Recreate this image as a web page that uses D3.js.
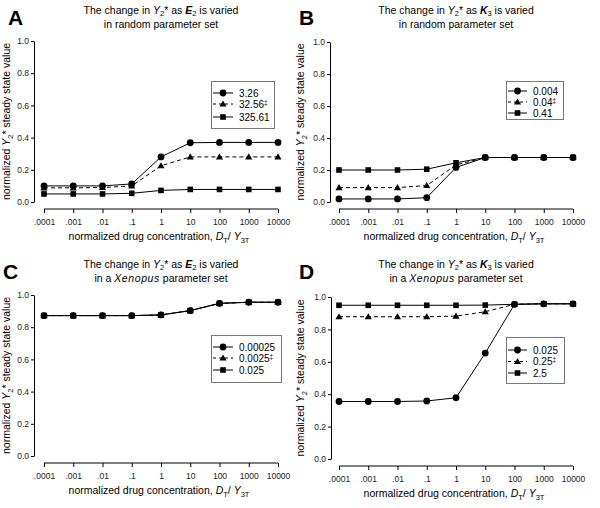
<!DOCTYPE html>
<html>
<head>
<meta charset="utf-8">
<script src="https://cdn.jsdelivr.net/npm/d3@7"></script>
<style>
  body { margin: 0; background: #fff; }
  svg { font-family: "Liberation Sans", Arial, sans-serif; }
</style>
</head>
<body>
<svg id="chart" width="600" height="508"></svg>
<script>
// ---------- Data ----------
const xCategories = [".0001", ".001", ".01", ".1", "1", "10", "100", "1000", "10000"];
const yTicks = [0.0, 0.2, 0.4, 0.6, 0.8, 1.0];

// Panel A: E2 varied, random parameter set
const aLabels = ["3.26", "32.56", "325.61"];
const aCircle = [0.10, 0.10, 0.10, 0.112, 0.28, 0.368, 0.37, 0.37, 0.37];
const aTriangle = [0.088, 0.088, 0.09, 0.10, 0.225, 0.28, 0.28, 0.28, 0.28];
const aSquare = [0.05, 0.05, 0.05, 0.054, 0.072, 0.078, 0.078, 0.078, 0.078];

// Panel B: K3 varied, random parameter set
const bLabels = ["0.004", "0.04", "0.41"];
const bCircle = [0.019, 0.019, 0.019, 0.027, 0.216, 0.278, 0.278, 0.278, 0.278];
const bTriangle = [0.09, 0.09, 0.09, 0.103, 0.232, 0.278, 0.278, 0.278, 0.278];
const bSquare = [0.20, 0.20, 0.20, 0.205, 0.245, 0.278, 0.278, 0.278, 0.278];

// Panel C: E2 varied, Xenopus parameter set
const cLabels = ["0.00025", "0.0025", "0.025"];
const cCircle = [0.872, 0.872, 0.872, 0.872, 0.876, 0.903, 0.948, 0.955, 0.955];
const cTriangle = [0.872, 0.872, 0.872, 0.872, 0.876, 0.903, 0.948, 0.955, 0.955];
const cSquare = [0.872, 0.872, 0.872, 0.872, 0.876, 0.903, 0.948, 0.955, 0.955];

// Panel D: K3 varied, Xenopus parameter set
const dLabels = ["0.025", "0.25", "2.5"];
const dCircle = [0.355, 0.355, 0.355, 0.358, 0.378, 0.654, 0.955, 0.958, 0.958];
const dTriangle = [0.878, 0.878, 0.878, 0.878, 0.882, 0.909, 0.955, 0.958, 0.958];
const dSquare = [0.949, 0.949, 0.949, 0.949, 0.949, 0.950, 0.955, 0.958, 0.958];

// ---------- Layout ----------
const panels = [
  { letter: "A", param: "E", sub: "2", set: "random", labels: aLabels, series: [aCircle, aTriangle, aSquare],
    ox: 0, oy: 0, axisX: 34, x0: 44, x1: 278, yTop: 41, yBot: 202, xAxisY: 209, yLabelX: 10,
    legend: { x: 211, y: 81, w: 63, h: 47, rows: [12, 23, 36], lx0: 2, lx1: 22, tx: 28 }, titleX: 161, letterX: 8 },
  { letter: "B", param: "K", sub: "3", set: "random", labels: bLabels, series: [bCircle, bTriangle, bSquare],
    ox: 300, oy: 0, axisX: 30, x0: 39, x1: 273, yTop: 42, yBot: 202, xAxisY: 209, yLabelX: 4,
    legend: { x: 206, y: 81, w: 57, h: 38, rows: [10, 21, 32], lx0: 2, lx1: 21, tx: 27 }, titleX: 156, letterX: -1 },
  { letter: "C", param: "E", sub: "2", set: "xenopus", labels: cLabels, series: [cCircle, cTriangle, cSquare],
    ox: 0, oy: 254, axisX: 34, x0: 44, x1: 278, yTop: 41, yBot: 202, xAxisY: 209, yLabelX: 10,
    legend: { x: 211, y: 81, w: 70, h: 47, rows: [12, 23, 35], lx0: 2, lx1: 22, tx: 28 }, titleX: 161, letterX: 3 },
  { letter: "D", param: "K", sub: "3", set: "xenopus", labels: dLabels, series: [dCircle, dTriangle, dSquare],
    ox: 300, oy: 254, axisX: 31, x0: 39, x1: 273, yTop: 43, yBot: 205, xAxisY: 212, yLabelX: 4,
    legend: { x: 206, y: 83, w: 58, h: 46, rows: [13, 24.5, 36], lx0: 2, lx1: 21, tx: 27 }, titleX: 156, letterX: -1 }
];

const svg = d3.select("#chart");
const markers = ["circle", "triangle", "square"];
const dashes = [null, "4,3", null];

function drawMarker(g, type, x, y) {
  if (type === "circle") {
    g.append("circle").attr("cx", x).attr("cy", y).attr("r", 3.4).attr("fill", "#000");
  } else if (type === "square") {
    g.append("rect").attr("x", x - 2.8).attr("y", y - 2.8).attr("width", 5.6).attr("height", 5.6).attr("fill", "#000");
  } else {
    const s = d3.symbol().type(d3.symbolTriangle).size(22);
    g.append("path").attr("d", s()).attr("transform", `translate(${x},${y + 0.5})`).attr("fill", "#000");
  }
}

const SUBFS = 7.5;

panels.forEach(p => {
  const g = svg.append("g").attr("transform", `translate(${p.ox},${p.oy})`);
  const x = d3.scalePoint().domain(xCategories).range([p.x0, p.x1]);
  const y = d3.scaleLinear().domain([0, 1]).range([p.yBot, p.yTop]);

  // Panel letter
  g.append("text").attr("x", p.letterX).attr("y", 25)
    .attr("font-size", 21).attr("font-weight", "bold").text(p.letter);

  // Title
  const t1 = g.append("text").attr("x", p.titleX).attr("y", 13.5).attr("text-anchor", "middle").attr("font-size", 10.5);
  t1.append("tspan").text("The change in ");
  t1.append("tspan").attr("font-style", "italic").text("Y");
  t1.append("tspan").attr("font-size", SUBFS).attr("dy", 2.5).text("2");
  t1.append("tspan").attr("dy", -2.5).text("* as ");
  t1.append("tspan").attr("font-style", "italic").attr("font-weight", "bold").text(p.param);
  t1.append("tspan").attr("font-size", SUBFS).attr("dy", 2.5).text(p.sub);
  t1.append("tspan").attr("dy", -2.5).text(" is varied");
  const t2 = g.append("text").attr("x", p.titleX).attr("y", 27.5).attr("text-anchor", "middle").attr("font-size", 10.5);
  if (p.set === "random") {
    t2.text("in random parameter set");
  } else {
    t2.append("tspan").text("in a ");
    t2.append("tspan").attr("font-style", "italic").attr("letter-spacing", 0.6).text("Xenopus");
    t2.append("tspan").text("  parameter set");
  }

  // Y axis
  const yAxis = d3.axisLeft(y).tickValues(yTicks).tickFormat(d3.format(".1f")).tickSize(3).tickPadding(2).tickSizeOuter(0);
  const ya = g.append("g").attr("transform", `translate(${p.axisX},0)`).call(yAxis);
  ya.select(".domain").attr("stroke", "#000");
  ya.selectAll("text").attr("font-size", 8.5).attr("fill", "#222").attr("font-family", "Liberation Sans, Arial, sans-serif");

  // X axis
  const xAxis = d3.axisBottom(x).tickSize(4).tickSizeOuter(0);
  const xa = g.append("g").attr("transform", `translate(0,${p.xAxisY})`).call(xAxis);
  xa.select(".domain").attr("d", `M${p.x0},0H${p.x1}`);
  xa.selectAll("text").attr("font-size", 8.5).attr("fill", "#222").attr("y", 16).attr("dy", 0)
    .attr("font-family", "Liberation Sans, Arial, sans-serif");

  // Y axis label
  const yl = g.append("text").attr("transform", `translate(${p.yLabelX},${(p.yTop + p.yBot) / 2}) rotate(-90)`)
    .attr("text-anchor", "middle").attr("font-size", 10.5);
  yl.append("tspan").text("normalized ");
  yl.append("tspan").attr("font-style", "italic").text("Y");
  yl.append("tspan").attr("font-size", SUBFS).attr("dy", 2.5).text("2");
  yl.append("tspan").attr("dy", -2.5).text("* steady state value");

  // X axis label
  const xl = g.append("text").attr("x", (p.x0 + p.x1) / 2 - 2).attr("y", p.xAxisY + 31)
    .attr("text-anchor", "middle").attr("font-size", 10.5);
  xl.append("tspan").text("normalized drug concentration, ");
  xl.append("tspan").attr("font-style", "italic").text("D");
  xl.append("tspan").attr("font-size", SUBFS).attr("dy", 2.5).text("T");
  xl.append("tspan").attr("dy", -2.5).text("/ ");
  xl.append("tspan").attr("font-style", "italic").text("Y");
  xl.append("tspan").attr("font-size", SUBFS).attr("dy", 2.5).text("3T");

  // Series (draw back to front: square, triangle, circle)
  const line = d3.line().x((d, i) => x(xCategories[i])).y(d => y(d));
  [2, 1, 0].forEach(si => {
    const vals = p.series[si];
    g.append("path").datum(vals).attr("d", line).attr("fill", "none")
      .attr("stroke", "#000").attr("stroke-width", 1)
      .attr("stroke-dasharray", dashes[si]);
    const mg = g.append("g");
    vals.forEach((v, i) => drawMarker(mg, markers[si], x(xCategories[i]), y(v)));
  });

  // Legend
  const L = p.legend;
  const lg = g.append("g").attr("transform", `translate(${L.x},${L.y})`);
  lg.append("rect").attr("x", 0.5).attr("y", 0.5).attr("width", L.w).attr("height", L.h)
    .attr("fill", "#fff").attr("stroke", "#777").attr("stroke-width", 1);
  p.labels.forEach((lab, si) => {
    const yy = L.rows[si];
    lg.append("line").attr("x1", L.lx0).attr("x2", L.lx1).attr("y1", yy).attr("y2", yy)
      .attr("stroke", "#000").attr("stroke-width", 1).attr("stroke-dasharray", si === 1 ? "3,3" : null);
    drawMarker(lg, markers[si], (L.lx0 + L.lx1) / 2, yy);
    const tx = lg.append("text").attr("x", L.tx).attr("y", yy + 3.5).attr("font-size", 10).text(lab);
    if (si === 1) tx.append("tspan").attr("font-size", 6.5).attr("dy", -3).text("‡");
  });
});
</script>
</body>
</html>
